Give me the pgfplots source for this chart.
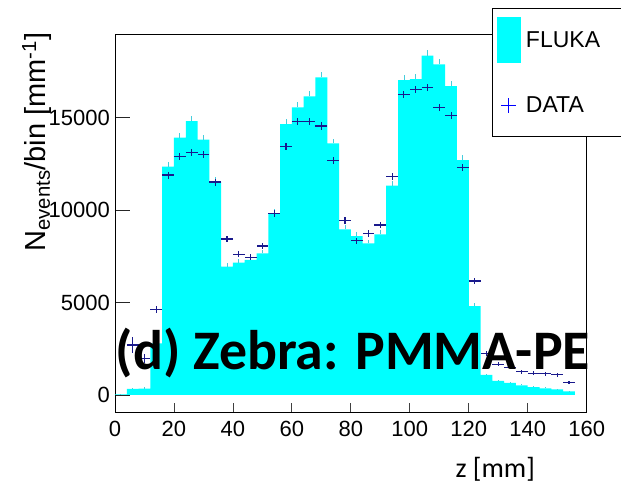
\documentclass[border=0pt]{standalone}
\usepackage{fontspec}
\setmainfont{Liberation Sans}
\newfontfamily\carlito{Carlito}
\usepackage{pgfplots}
\pgfplotsset{compat=1.18}
\usepackage{pgfplotstable}
\definecolor{datacol}{RGB}{25,25,140}
\definecolor{flukaerr}{RGB}{70,205,220}
\definecolor{flukacol}{RGB}{0,255,255}

% FLUKA histogram: left bin edge, centre, content, error
\pgfplotstableread{
x xc fl fe
0 2 36 20
4 6 330 60
8 10 350 60
12 14 2790 150
16 18 12340 260
20 22 13907 260
24 26 14810 270
28 30 13800 260
32 34 11530 240
36 38 6935 190
40 42 7152 190
44 46 7297 190
48 50 7657 200
52 54 9820 220
56 58 14648 260
60 62 15550 270
64 66 16143 270
68 70 17170 280
72 74 13603 260
76 78 8955 210
80 82 8594 210
84 86 8197 200
88 90 8683 210
92 94 11316 240
96 98 17025 280
100 102 17080 280
104 106 18340 290
108 110 17870 280
112 114 16700 280
116 118 12700 250
120 122 4810 160
124 126 1081 80
128 130 757 70
132 134 649 60
136 138 523 60
140 142 432 50
144 146 360 50
148 150 306 40
152 154 198 40
156 158 0 0
}\fluka

% DATA: bin centre, content, x half width, y error
\pgfplotstableread{
x y ex ey
6 2700 2 420
10 1990 2 250
14 4630 2 200
18 11890 2 190
22 12900 2 190
26 13117 2 190
30 13009 2 190
34 11512 2 190
38 8432 2 170
42 7603 2 170
46 7441 2 170
50 8053 2 170
54 9800 2 180
58 13420 2 190
62 14790 2 190
66 14770 2 190
70 14540 2 190
74 12685 2 190
78 9420 2 180
82 8340 2 170
86 8737 2 170
90 9190 2 180
94 11800 2 190
98 16233 2 200
102 16520 2 200
106 16610 2 200
110 15530 2 200
114 15100 2 200
118 12290 2 190
122 6160 2 160
126 2254 2 120
130 1660 2 110
134 1495 2 110
138 1261 2 100
142 1171 2 100
146 1153 2 100
150 1099 2 100
154 667 2 90
}\datatab

\begin{document}
\begin{tikzpicture}
\useasboundingbox (-115bp,-76.3bp) rectangle (506bp,412.7bp);
\begin{axis}[
  at={(0,0)}, anchor=south west,
  scale only axis,
  width=471.7bp, height=378.7bp,
  xmin=0, xmax=160,
  ymin=-957, ymax=19513,
  xtick={0,20,...,160},
  ytick={0,5000,10000,15000},
  minor tick num=0,
  tick align=inside,
  tick pos=left,
  axis line style={line width=0.8bp, black},
  xtick style={line width=0.8bp, black!75, /pgfplots/major tick length=10bp},
  ytick style={line width=0.8bp, black!85, /pgfplots/major tick length=15bp},
  /pgf/number format/assume math mode=true,
  /pgf/number format/1000 sep={},
  scaled y ticks=false,
  ticklabel style={font=\fontsize{22bp}{24bp}\selectfont},
  xticklabel style={anchor=base, inner sep=0pt, yshift=-23.3bp},
  yticklabel style={anchor=east, inner sep=0pt, xshift=-5bp},
  xlabel={z [mm]},
  xlabel style={font=\carlito\fontsize{28bp}{30bp}\selectfont, at={(axis description cs:0.806,-0.170)}, anchor=base, inner sep=0pt},
  ylabel={N\textsubscript{events}/bin [mm\textsuperscript{-1}]},
  ylabel style={font=\fontsize{29bp}{31bp}\selectfont, at={(axis description cs:-0.148,0.715)}, anchor=base, inner sep=0pt},
  legend style={at={(axis description cs:0.800,1.068)}, anchor=north west,
    draw=black, line width=0.8bp, fill=white,
    font=\fontsize{23bp}{25bp}\selectfont,
    inner xsep=4.4bp, inner ysep=8.4bp,
    nodes={inner sep=0pt},
    column sep=5bp, row sep=19.8bp},
  legend cell align=left,
  clip=false,
]
\addplot[const plot, fill=flukacol, draw=none, forget plot] table[x=x, y=fl] {\fluka} \closedcycle;
\addplot[draw=none, mark=none, forget plot,
  error bars/.cd, y dir=plus, y explicit,
  error mark=none,
  error bar style={draw=flukaerr, line width=0.8bp, solid}]
  table[x=xc, y=fl, y error=fe] {\fluka};
\addlegendimage{legend image code/.code={\fill[flukacol] (0bp,-22.5bp) rectangle (23bp,22.5bp);}}
\addlegendentry{\makebox[91bp][l]{FLUKA}}
\addplot[draw=none, mark=none,
  legend image code/.code={\path (0bp,-22.5bp) rectangle (23bp,22.5bp);
     \draw[blue, line width=1bp] (3.3bp,0bp)--(18.3bp,0bp) (10.8bp,-7.5bp)--(10.8bp,7.5bp);},
  error bars/.cd, x dir=both, x explicit, y dir=both, y explicit,
  error mark=none,
  error bar style={draw=datacol, line width=1.1bp, solid}]
  table[x=x, y=y, x error=ex, y error=ey] {\datatab};
\addlegendentry{DATA}
\node[anchor=base west, inner sep=0pt, font=\carlito\bfseries\fontsize{55.8bp}{56bp}\selectfont]
  at (axis description cs:0.0015,0.1128) {(d) Zebra: PMMA-PE};
\end{axis}
\end{tikzpicture}
\end{document}
